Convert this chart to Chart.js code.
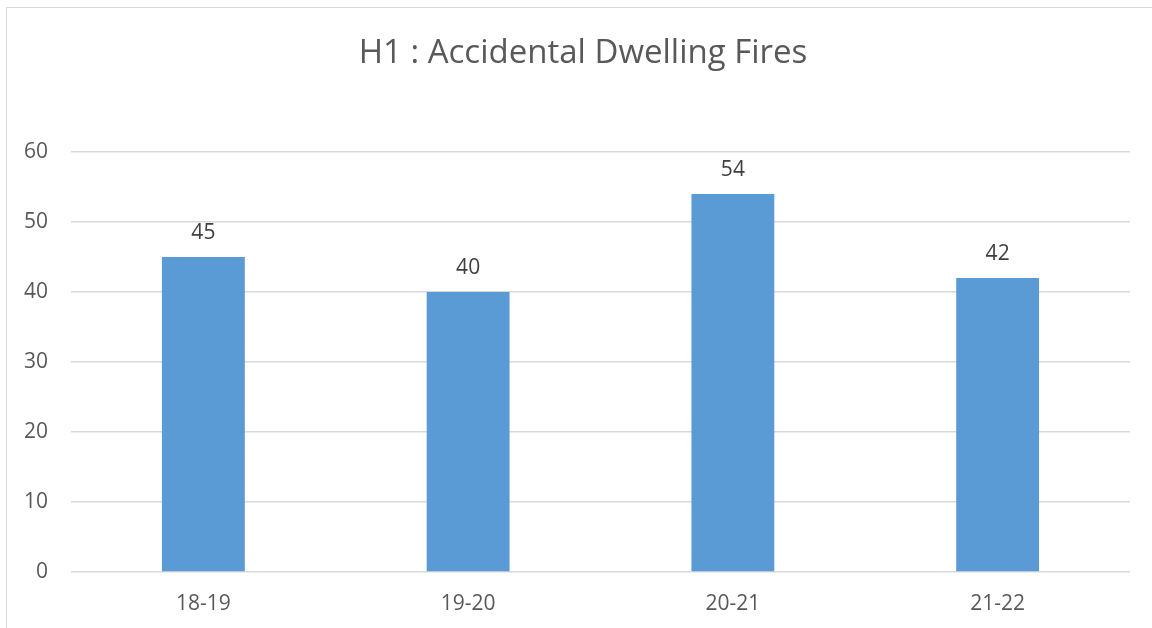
<!DOCTYPE html>
<html>
<head>
<meta charset="utf-8">
<script src="https://cdn.jsdelivr.net/npm/chart.js@4/dist/chart.umd.min.js"></script>
<style>
  html, body { margin: 0; padding: 0; background: #ffffff; overflow: hidden; }
  #frame {
    position: absolute; left: 6px; top: 7px;
    width: 1152px; height: 640px;
    border: 1px solid #d9d9d9;
    background: #ffffff;
  }
  #chart { display: block; }
</style>
</head>
<body>
<div id="frame"><canvas id="chart" width="1152" height="621"></canvas></div>
<script>
// Financial years and the number of accidental dwelling fires in each
const years = ['18-19', '19-20', '20-21', '21-22'];
const fires = [45, 40, 54, 42];
const yTicks = [0, 10, 20, 30, 40, 50, 60];
const chartTitle = 'H1 : Accidental Dwelling Fires';

const FONT = '"Open Sans", sans-serif';

// Title centred across the whole chart frame
const frameTitle = {
  id: 'frameTitle',
  afterDraw(chart) {
    const ctx = chart.ctx;
    ctx.save();
    ctx.font = '33px ' + FONT;
    ctx.fillStyle = '#595959';
    ctx.textAlign = 'center';
    ctx.textBaseline = 'middle';
    ctx.fillText(chartTitle, chart.width / 2, 46);
    ctx.restore();
  }
};

// Writes each bar's value just above it
const valueLabels = {
  id: 'valueLabels',
  afterDatasetsDraw(chart) {
    const ctx = chart.ctx;
    const meta = chart.getDatasetMeta(0);
    ctx.save();
    ctx.font = '21px ' + FONT;
    ctx.fillStyle = '#404040';
    ctx.textAlign = 'center';
    ctx.textBaseline = 'middle';
    meta.data.forEach((bar, i) => {
      ctx.fillText(String(fires[i]), bar.x, bar.y - 24);
    });
    ctx.restore();
  }
};

new Chart(document.getElementById('chart'), {
  type: 'bar',
  data: {
    labels: years,
    datasets: [{
      data: fires,
      backgroundColor: '#5b9bd5',
      borderWidth: 0,
      barPercentage: 0.313,
      categoryPercentage: 1.0
    }]
  },
  options: {
    responsive: false,
    animation: false,
    layout: { padding: { left: 0, right: 29, top: 144, bottom: 0 } },
    plugins: {
      legend: { display: false },
      tooltip: { enabled: false },
      title: { display: false }
    },
    scales: {
      x: {
        grid: { display: false, drawTicks: false },
        border: { display: false },
        ticks: { color: '#595959', font: { family: FONT, size: 21 }, padding: 19 },
        afterFit(scale) { scale.height = 57; }
      },
      y: {
        min: 0, max: 60,
        afterBuildTicks(scale) { scale.ticks = yTicks.map(v => ({ value: v })); },
        grid: { color: '#d9d9d9', lineWidth: 1.5, drawTicks: false },
        border: { display: false },
        ticks: { color: '#595959', font: { family: FONT, size: 21 }, padding: 23 },
        afterFit(scale) { scale.width = 64; }
      }
    }
  },
  plugins: [valueLabels, frameTitle]
});
</script>
</body>
</html>
